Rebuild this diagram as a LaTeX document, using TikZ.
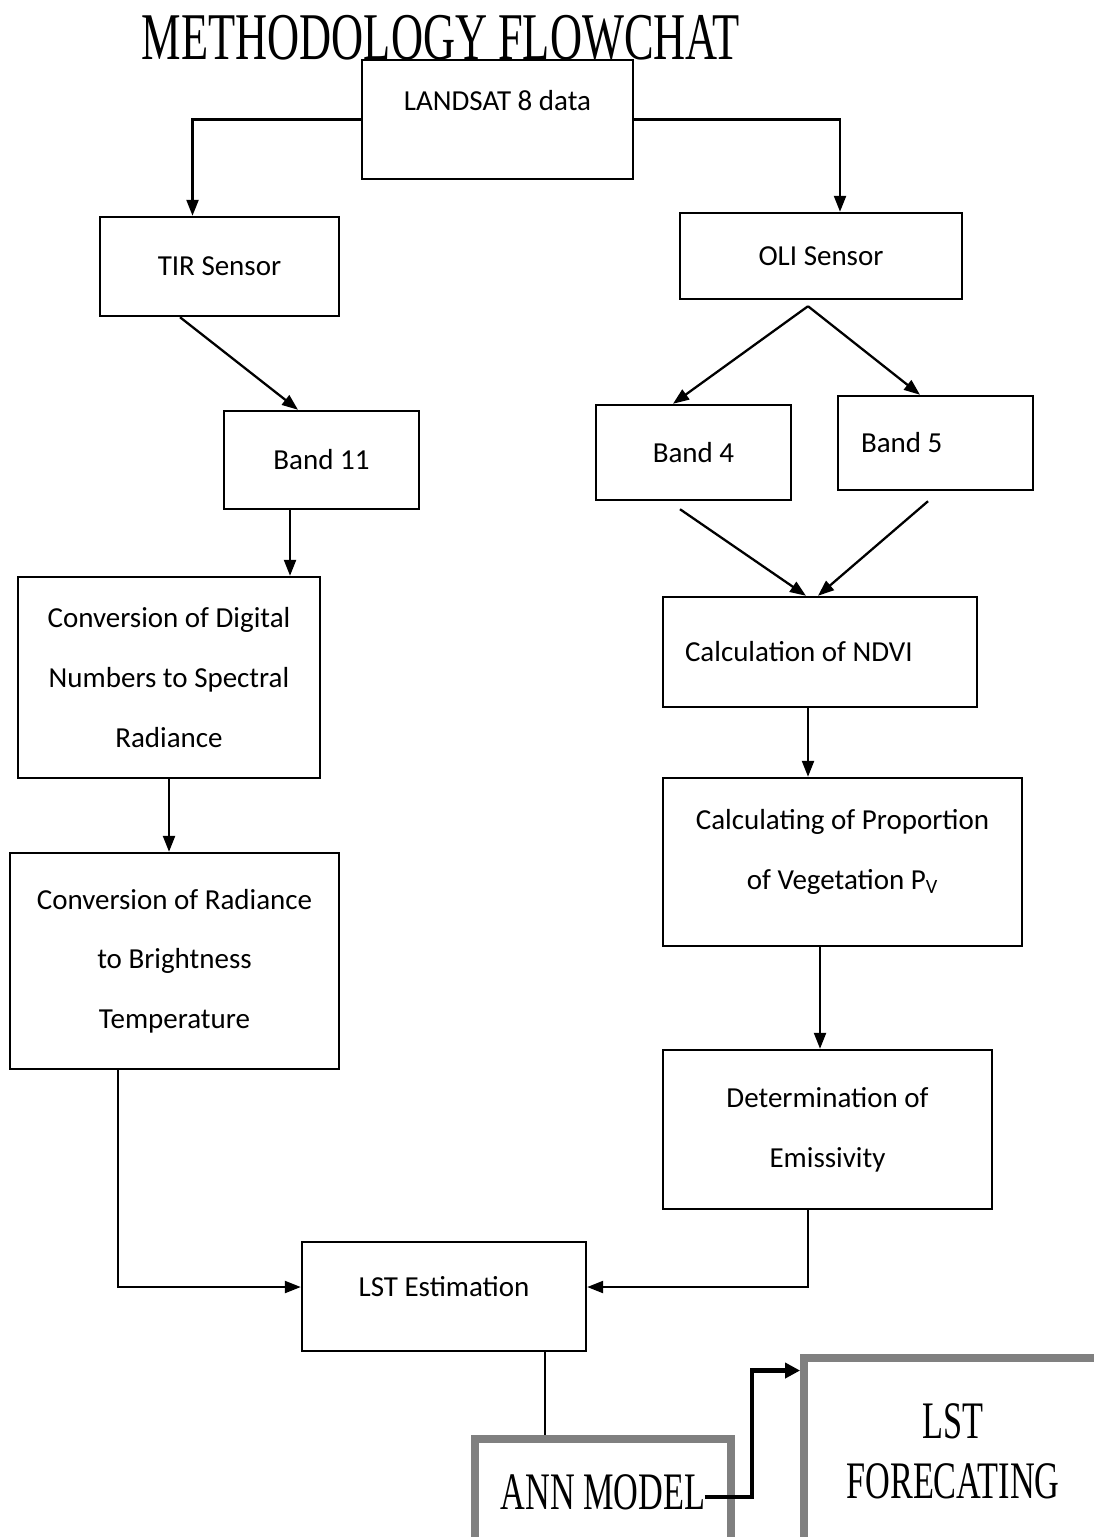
\documentclass[tikz,border=0pt]{standalone}
\usepackage{fontspec}
\setmainfont{Carlito}
\newfontfamily\timesfont{Liberation Serif}
\usetikzlibrary{arrows.meta, positioning, calc}
\definecolor{boxgray}{RGB}{128,128,128}

\begin{document}
\begin{tikzpicture}[
    x=0.02cm, y=-0.02cm,
    stepbox/.style={draw, line width=1.4pt, align=center, inner sep=2pt,
        font=\fontsize{16.5}{34}\selectfont},
    graybox/.style={draw=boxgray, line width=4.5pt, align=center,
        font=\timesfont\fontsize{30}{34}\selectfont},
    arr/.style={-{Triangle[length=0.32cm, width=0.24cm]}, line width=1.3pt},
    thickarr/.style={-{Triangle[length=0.3cm, width=0.3cm]}, line width=2.5pt}
]
\useasboundingbox (0,0) rectangle (1094,1537);

\node[font=\timesfont\fontsize{38}{40}\selectfont] (title) at (441,38)
    {\scalebox{0.665}[1]{METHODOLOGY FLOWCHAT}};

\node[stepbox, minimum width=5.42cm, minimum height=2.38cm, text depth=0.75cm] (landsat) at (497.5,119.5) {LANDSAT 8 data};
\node[stepbox, minimum width=4.78cm, minimum height=1.98cm] (tir) at (219.5,266.5) {TIR Sensor};
\node[stepbox, minimum width=5.64cm, minimum height=1.72cm, text depth=0cm] (oli) at (821,256) {OLI Sensor};
\node[stepbox, minimum width=3.9cm, minimum height=1.96cm] (band11) at (321.5,460) {Band 11};
\node[stepbox, minimum width=3.9cm, minimum height=1.9cm] (band4) at (693.5,452.5) {Band 4};
\node[stepbox, minimum width=3.9cm, minimum height=1.88cm] (band5) at (935.5,443) {\makebox[2.98cm][l]{Band 5}};
\node[stepbox, minimum width=6.04cm, minimum height=4.02cm] (digital) at (169,677.5) {Conversion of Digital\\Numbers to Spectral\\Radiance};
\node[stepbox, minimum width=6.58cm, minimum height=4.32cm] (radiance) at (174.5,961) {Conversion of Radiance\\to Brightness\\Temperature};
\node[stepbox, minimum width=6.28cm, minimum height=2.2cm] (ndvi) at (820,652) {\makebox[5.4cm][l]{Calculation of NDVI}};
\node[stepbox, minimum width=7.18cm, minimum height=3.36cm, text depth=0.5cm] (proportion) at (842.5,862) {Calculating of Proportion\\of Vegetation P\textsubscript{V}};
\node[stepbox, minimum width=6.58cm, minimum height=3.18cm] (emissivity) at (827.5,1129.5) {Determination of\\Emissivity};
\node[stepbox, minimum width=5.68cm, minimum height=2.18cm, text depth=0.4cm] (lst) at (444,1296.5) {LST Estimation};

\node[graybox, minimum width=5.12cm, minimum height=2.12cm] (ann) at (603,1492) {\scalebox{0.65}[1]{ANN MODEL}};
\node[graybox, minimum width=5.96cm, minimum height=3.74cm] (forecast) at (953,1451.5) {\scalebox{0.65}[1]{LST}\\\scalebox{0.65}[1]{FORECATING}};

% sensors
\draw[arr] (landsat.west) -| ([xshift=-0.54cm]tir.north);
\draw[arr] (landsat.east) -| ([xshift=0.38cm]oli.north);

% thermal branch
\draw[arr] ([xshift=-0.79cm]tir.south) -- ([xshift=-0.47cm]band11.north);
\draw[arr] ([xshift=-0.63cm]band11.south) -- ([xshift=-0.63cm]band11.south |- digital.north);
\draw[arr] (digital.south) -- (digital.south |- radiance.north);

% optical branch
\coordinate (olifork) at ([xshift=-0.26cm, yshift=-0.12cm]oli.south);
\draw[arr] (olifork) -- ([xshift=-0.41cm]band4.north);
\draw[arr] (olifork) -- ([xshift=-0.31cm]band5.north);
\draw[arr] ([xshift=-0.27cm, yshift=-0.16cm]band4.south) -- ([xshift=-0.28cm]ndvi.north);
\draw[arr] ([xshift=-0.15cm, yshift=-0.2cm]band5.south) -- ([xshift=-0.04cm]ndvi.north);
\draw[arr] ([xshift=-0.24cm]ndvi.south) -- ([xshift=-0.24cm]ndvi.south |- proportion.north);
\draw[arr] ([xshift=-0.45cm]proportion.south) -- ([xshift=-0.45cm]proportion.south |- emissivity.north);

% LST
\draw[arr] ([xshift=-1.13cm]radiance.south) |- ([yshift=0.19cm]lst.west);
\draw[arr] ([xshift=-0.39cm]emissivity.south) |- ([yshift=0.19cm]lst.east);
\draw[line width=1pt] ([xshift=2.02cm]lst.south) -- ([xshift=2.02cm]lst.south |- ann.north);
\draw[thickarr] ([xshift=2.04cm, yshift=-0.1cm]ann.center) -- ++(47,0) |- ([yshift=1.62cm]forecast.west);
\end{tikzpicture}
\end{document}
